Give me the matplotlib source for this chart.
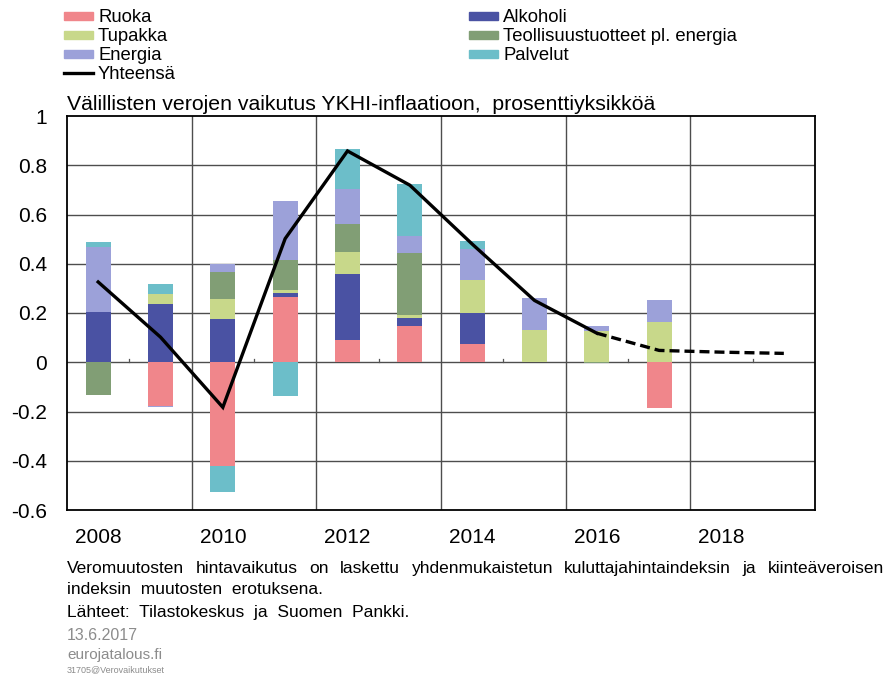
import numpy as np
import matplotlib
matplotlib.use("Agg")
import matplotlib.pyplot as plt
from matplotlib.patches import Rectangle
from matplotlib.lines import Line2D

plt.rcParams['font.family'] = ['Liberation Sans', 'DejaVu Sans']
plt.rcParams['axes.unicode_minus'] = False

# data: indirect tax contribution to HICP inflation, percentage points
years = list(range(2008, 2020))
ruoka      = [0.000, -0.176, -0.420, 0.265, 0.092, 0.148, 0.073, 0.000, 0.000, -0.185, 0, 0]
alkoholi   = [0.204, 0.237, 0.174, 0.016, 0.265, 0.033, 0.125, 0.000, 0.000, 0.000, 0, 0]
tupakka    = [0.000, 0.041, 0.081, 0.011, 0.091, 0.012, 0.137, 0.132, 0.125, 0.163, 0, 0]
teollisuus = [-0.133, 0.000, 0.111, 0.122, 0.113, 0.252, 0.000, 0.000, -0.005, 0.000, 0, 0]
energia    = [0.262, -0.007, 0.034, 0.242, 0.141, 0.066, 0.123, 0.129, 0.022, 0.091, 0, 0]
palvelut   = [0.023, 0.038, -0.106, -0.138, 0.164, 0.214, 0.033, 0.000, 0.000, 0.000, 0, 0]

total_years = list(range(2008, 2017))
total = [0.326, 0.102, -0.183, 0.502, 0.858, 0.719, 0.480, 0.251, 0.118]
forecast_years = [2016, 2017, 2018, 2019]
forecast = [0.118, 0.048, 0.041, 0.036]

tick_years = ['2008', '2010', '2012', '2014', '2016', '2018']

series = [
    ('Ruoka', ruoka, '#F0868B'),
    ('Alkoholi', alkoholi, '#4A52A3'),
    ('Tupakka', tupakka, '#C8D88A'),
    ('Teollisuustuotteet pl. energia', teollisuus, '#819E75'),
    ('Energia', energia, '#9CA1D9'),
    ('Palvelut', palvelut, '#6CBEC9'),
]

fig = plt.figure(figsize=(8.88, 6.77), dpi=100)
ax = fig.add_axes([67/888, 1 - 510/677, 748/888, 394/677])

x = np.arange(len(years))
pos_bottom = np.zeros(len(years))
neg_bottom = np.zeros(len(years))
for name, vals, col in series:
    v = np.array(vals, dtype=float)
    bottom = np.where(v >= 0, pos_bottom, neg_bottom)
    ax.bar(x, v, width=0.4, bottom=bottom, color=col, edgecolor='none', zorder=2)
    pos_bottom += np.where(v > 0, v, 0)
    neg_bottom += np.where(v < 0, v, 0)

xt = [years.index(y) for y in total_years]
xf = [years.index(y) for y in forecast_years]
ax.plot(xt, total, color='black', lw=2.4, zorder=3, solid_joinstyle='miter')
ax.plot(xf, forecast, color='black', lw=2.4, ls=(0, (3, 1.5)), zorder=3)

ax.set_xlim(-0.5, len(years) - 0.5)
ax.set_ylim(-0.6, 1.0)
yt = np.round(np.arange(-0.6, 1.01, 0.2), 1)
ax.set_yticks(yt)
ax.set_yticklabels(['%g' % v for v in yt])
ax.set_xticks([years.index(int(y)) for y in tick_years])
ax.set_xticklabels(tick_years)
ax.tick_params(axis='both', length=0, labelsize=15, colors='black')
ax.tick_params(axis='x', pad=13)
ax.tick_params(axis='y', pad=14.5)

for v in yt[1:-1]:
    ax.axhline(v, color='#4d4d4d', lw=1.0, zorder=1)
for b in np.arange(1.5, len(years) - 1, 2):
    ax.axvline(b, color='#4d4d4d', lw=1.0, zorder=1)
# small category ticks on the zero line
for b in np.arange(0.5, len(years) - 1, 2):
    ax.plot([b, b], [0, 0.012], color='#555555', lw=0.9, zorder=1)
for s in ax.spines.values():
    s.set_color('black')
    s.set_linewidth(1.3)

ax.text(0, 1 + 11/394, 'Välillisten verojen vaikutus YKHI-inflaatioon,  prosenttiyksikköä',
        transform=ax.transAxes, fontsize=15.3, va='center', ha='left')

# legend, drawn by hand in two columns
col1 = ['Ruoka', 'Tupakka', 'Energia']
col2 = ['Alkoholi', 'Teollisuustuotteet pl. energia', 'Palvelut']
colors = {n: c for n, _, c in series}
rows_y = [16, 35, 54, 73]
for names, px in [(col1, 64), (col2, 469)]:
    for i, n in enumerate(names):
        yc = 1 - rows_y[i] / 677
        fig.patches.append(Rectangle((px / 888, yc - 4 / 677), 29 / 888, 8 / 677,
                                     transform=fig.transFigure, color=colors[n]))
        fig.text((px + 34) / 888, 1 - (rows_y[i] + 6) / 677, n, fontsize=13.3,
                 va='baseline', ha='left')
yc = 1 - rows_y[3] / 677
fig.lines.append(Line2D([64 / 888, 93 / 888], [yc, yc], transform=fig.transFigure,
                        color='black', lw=2.4))
fig.text(98 / 888, 1 - (rows_y[3] + 6) / 677, 'Yhteensä', fontsize=13.3,
         va='baseline', ha='left')

# footer; first line is justified between x=67 and x=884
line1 = 'Veromuutosten hintavaikutus on laskettu yhdenmukaistetun kuluttajahintaindeksin ja kiinteäveroisen'
renderer = fig.canvas.get_renderer()
words = line1.split()
objs = [fig.text(0, 1 - 573 / 677, w, fontsize=12.5, va='baseline', ha='left') for w in words]
widths = [o.get_window_extent(renderer).width for o in objs]
gap = (884 - 67 - sum(widths)) / (len(words) - 1)
xpos = 67
for o, w in zip(objs, widths):
    o.set_x(xpos / 888)
    xpos += w + gap

fig.text(67 / 888, 1 - 594 / 677, 'indeksin  muutosten  erotuksena.', fontsize=12.5, va='baseline')
fig.text(67 / 888, 1 - 617 / 677, 'Lähteet:  Tilastokeskus  ja  Suomen  Pankki.', fontsize=12.5, va='baseline')
fig.text(67 / 888, 1 - 636 / 677, '13.6.2017', fontsize=11.5, color='#8c8c8c', va='center')
fig.text(67 / 888, 1 - 655 / 677, 'eurojatalous.fi', fontsize=11, color='#8c8c8c', va='center')
fig.text(67 / 888, 1 - 670 / 677, '31705@Verovaikutukset', fontsize=6.5, color='#8c8c8c', va='center')

fig.savefig('out.png', dpi=100, facecolor='white')
